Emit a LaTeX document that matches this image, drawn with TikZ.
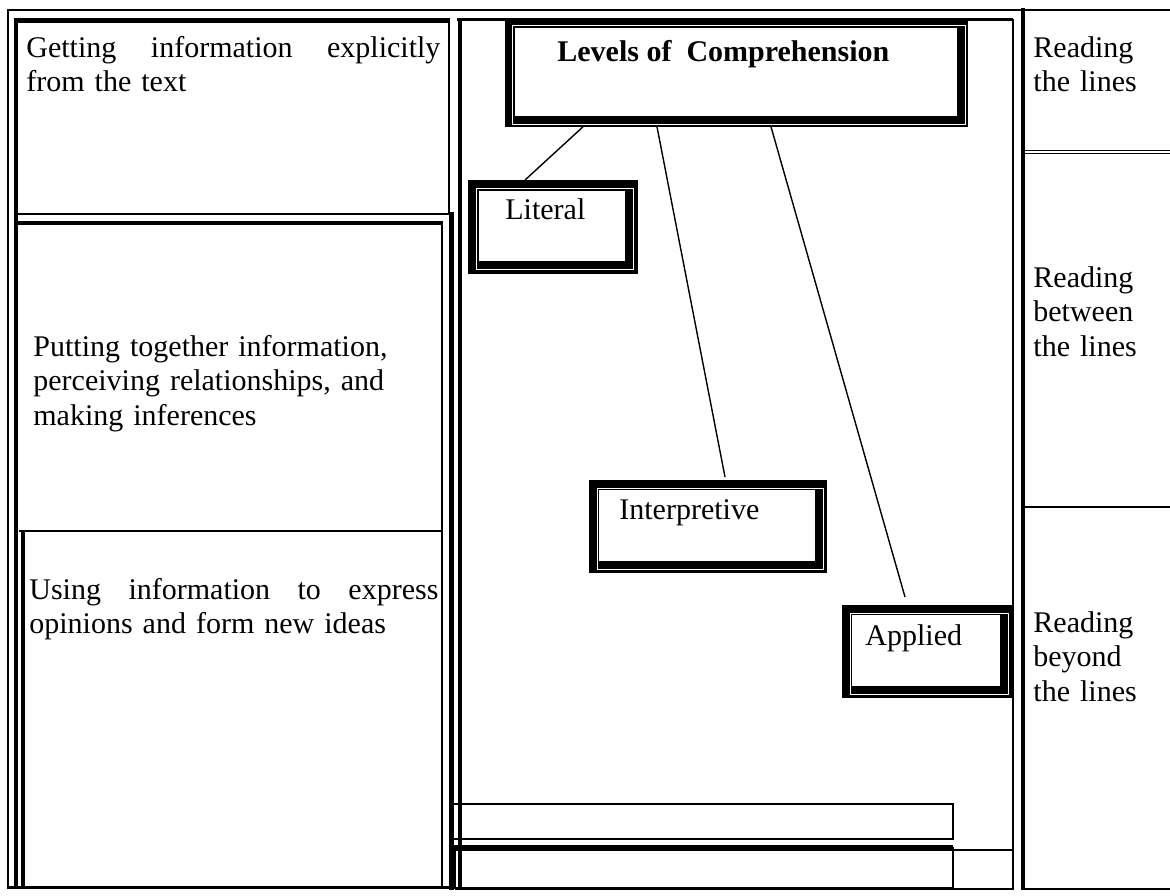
\documentclass[tikz,border=0pt]{standalone}
\usepackage{fontspec}
\setmainfont{Liberation Serif}
\usetikzlibrary{calc}
\newcommand{\fancyframe}[3]{%
  \fill[black] (#1.north west) rectangle (#1.south east);
  \fill[white] ($(#1.north west)+(#2,#2)$) rectangle ($(#1.south east)+(-#3,-#3)$);
  \fill[black] ($(#1.north west)+(#2+1.3,#2+1.3)$) rectangle ($(#1.south east)+(-#3-1.3,-#3-1.3)$);
  \fill[white] ($(#1.north west)+(#2+2.8,#2+2.8)$) rectangle ($(#1.south east)+(-#3-8.8,-#3-8.8)$);
}
\begin{document}
\begin{tikzpicture}[x=0.5pt,y=-0.5pt,
  txt/.style={inner sep=0pt, anchor=base west, font=\fontsize{15}{17.25}\selectfont},
  para/.style={txt, align=left},
  lvl/.style={rectangle, inner sep=0pt, anchor=north west, draw=none},
  conn/.style={line width=0.7pt}
]
\useasboundingbox (0,0) rectangle (1170,895);
% outer frame
\draw[line width=1.25pt] (7,10) -- (1170,10);
\draw[line width=1pt] (7.5,9) -- (7.5,888);
% left column
\draw[line width=2.25pt] (14,20.5) -- (450,20.5);
\draw[line width=2pt] (16,18) -- (16,888);
\draw[line width=1pt] (448.5,18) -- (448.5,213);
\draw[line width=1pt] (16,213.5) -- (450,213.5);
\draw[line width=2pt] (17,223) -- (443,223);
\draw[line width=1pt] (442,221) -- (442,888);
\draw[line width=2.5pt] (451,212) -- (451,890);
\draw[line width=1pt] (19,531) -- (443,531);
\draw[line width=1.75pt] (23,531) -- (23,888);
\draw[line width=1.25pt] (7,887.5) -- (451,887.5);
% middle column
\draw[line width=1.5pt] (457,19.5) -- (1013,19.5);
\draw[line width=2pt] (459.5,18) -- (459.5,890);
\draw[line width=1pt] (1013,18.5) -- (1013,889.5);
\draw[line width=1pt] (455,889) -- (1013,889);
\draw[line width=1pt] (450,803.5) rectangle (953,838.5);
\draw[line width=1.75pt] (450,847) -- (953,847);
\draw[line width=1pt] (450,850) -- (1013,850);
\draw[line width=1pt] (455,847) -- (455,887.5) -- (953,887.5) -- (953,847);
% right column
\draw[line width=2pt] (1023,8) -- (1023,890);
\draw[line width=0.6pt] (1025,150.7) -- (1170,150.7);
\draw[line width=0.6pt] (1025,153.5) -- (1170,153.5);
\draw[line width=1.25pt] (1025,507) -- (1170,507);
\draw[line width=1pt] (1022,889) -- (1170,889);
% level boxes
\node[lvl, minimum width=231pt, minimum height=54pt] (title) at (505,18) {};
\node[lvl, minimum width=84.5pt, minimum height=46.5pt] (lit) at (468,180) {};
\node[lvl, minimum width=118.5pt, minimum height=46pt] (interp) at (589,480) {};
\node[lvl, minimum width=84.5pt, minimum height=46pt] (appl) at (842,605) {};
\fancyframe{title}{7}{2}
\fancyframe{lit}{8}{4}
\fancyframe{interp}{7.5}{3}
\fancyframe{appl}{7.5}{3}
% connectors
\draw[conn] ($(title.south west)+(78,0)$) -- ($(lit.north west)+(57,0)$);
\draw[conn] ($(title.south west)+(152,0)$) -- ($(interp.north west)+(136,-3)$);
\draw[conn] ($(title.south west)+(266,0)$) -- ($(appl.north west)+(63,-8)$);
% texts in boxes
\node[txt, font=\fontsize{15}{17.25}\selectfont\bfseries] (titletext) at (557,61) {Levels of~ Comprehension};
\node[txt] (littext) at (505,219.5) {Literal};
\node[txt] (interptext) at (619,519) {Interpretive};
\node[txt] (appltext) at (865,645) {Applied};
% left column texts
\node[para, text width=207pt] (getting) at (26,57) {Getting\hfill information\hfill explicitly\\from the text};
\node[para, text width=200pt] (putting) at (33,356) {Putting together information,\\perceiving relationships, and\\making inferences};
\node[para, text width=204.5pt] (using) at (29,599) {Using\hfill information\hfill to\hfill express\\opinions and form new ideas};
% right column texts
\node[para, text width=60pt] (r1) at (1033,57) {Reading\\the lines};
\node[para, text width=60pt] (r2) at (1033,287) {Reading\\between\\the lines};
\node[para, text width=60pt] (r3) at (1033,632) {Reading\\beyond\\the lines};
\end{tikzpicture}
\end{document}
